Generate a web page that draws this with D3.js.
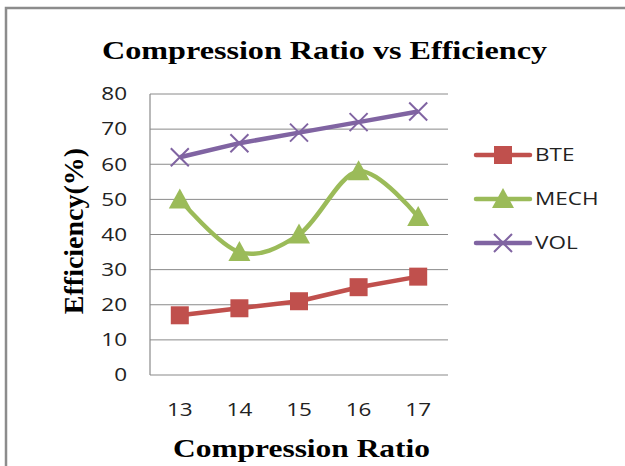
<!DOCTYPE html>
<html>
<head>
<meta charset="utf-8">
<script src="https://cdn.jsdelivr.net/npm/d3@7"></script>
<style>
  body { margin: 0; background: #fff; }
  svg { display: block; }
</style>
</head>
<body>
<svg id="chart" width="625" height="466"></svg>
<script>
// chart data
const ratios = [13, 14, 15, 16, 17];
const bte = [17, 19, 21, 25, 28];
const mech = [50, 35, 40, 58, 45];
const vol = [62, 66, 69, 72, 75];
const yTicks = [0, 10, 20, 30, 40, 50, 60, 70, 80];
const seriesNames = ["BTE", "MECH", "VOL"];

const svg = d3.select("#chart");
const plotLeft = 150, plotRight = 448, plotTop = 94, plotBottom = 375;
const stretch = 1.25; // the original picture is widened a bit

// outer frame
svg.append("path")
  .attr("d", "M6,466 V8 H625")
  .attr("fill", "none")
  .attr("stroke", "#8c8c8c")
  .attr("stroke-width", 2.5);

let x = d3.scaleBand().domain(ratios).range([plotLeft, plotRight]);
let y = d3.scaleLinear().domain([0, 80]).range([plotBottom, plotTop]);
let cx = d => x(d) + x.bandwidth() / 2;

// grid lines
svg.append("g").selectAll("line")
  .data(yTicks.slice(1))
  .enter().append("line")
  .attr("x1", plotLeft).attr("x2", plotRight)
  .attr("y1", d => y(d)).attr("y2", d => y(d))
  .attr("stroke", "#8a8a8a").attr("stroke-width", 1);

// axes lines
svg.append("line").attr("x1", plotLeft).attr("x2", plotLeft).attr("y1", plotTop).attr("y2", plotBottom)
  .attr("stroke", "#8a8a8a").attr("stroke-width", 1.2);
svg.append("line").attr("x1", plotLeft).attr("x2", plotRight).attr("y1", plotBottom).attr("y2", plotBottom)
  .attr("stroke", "#8a8a8a").attr("stroke-width", 1.2);

// tick labels
svg.append("g").selectAll("text")
  .data(yTicks)
  .enter().append("text")
  .attr("transform", d => "translate(127," + y(d) + ") scale(" + stretch + ",1)")
  .attr("dy", "0.35em")
  .attr("text-anchor", "end")
  .style("font-family", "Open Sans, sans-serif")
  .style("font-size", "18px")
  .attr("fill", "#222")
  .text(d => d);

svg.append("g").selectAll("text")
  .data(ratios)
  .enter().append("text")
  .attr("transform", d => "translate(" + cx(d) + ",410) scale(" + stretch + ",1)")
  .attr("dy", "0.35em")
  .attr("text-anchor", "middle")
  .style("font-family", "Open Sans, sans-serif")
  .style("font-size", "18px")
  .attr("fill", "#222")
  .text(d => d);

// titles
svg.append("text")
  .attr("x", 102).attr("y", 59)
  .attr("textLength", 445)
  .attr("lengthAdjust", "spacingAndGlyphs")
  .style("font-family", "Liberation Serif, serif")
  .style("font-weight", "bold")
  .style("font-size", "26px")
  .text("Compression Ratio vs Efficiency");

svg.append("text")
  .attr("x", 173).attr("y", 457)
  .attr("textLength", 257)
  .attr("lengthAdjust", "spacingAndGlyphs")
  .style("font-family", "Liberation Serif, serif")
  .style("font-weight", "bold")
  .style("font-size", "26px")
  .text("Compression Ratio");

svg.append("text")
  .attr("transform", "translate(83,231) rotate(-90)")
  .attr("text-anchor", "middle")
  .style("font-family", "Liberation Serif, serif")
  .style("font-weight", "bold")
  .style("font-size", "28px")
  .text("Efficiency(%)");

const colors = ["#C0504D", "#9BBB59", "#8064A2"];
const allSeries = [bte, mech, vol];
const curves = [d3.curveLinear, d3.curveCardinal.tension(0), d3.curveLinear];

function drawMarker(g, kind, color) {
  if (kind == 0) {
    g.append("rect").attr("x", -9).attr("y", -9).attr("width", 18).attr("height", 18)
      .attr("fill", color);
  } else if (kind == 1) {
    g.append("path").attr("d", "M0,-11 L11,9 L-11,9 Z").attr("fill", color);
  } else {
    g.append("path").attr("d", "M-9,-9 L9,9 M-9,9 L9,-9")
      .attr("stroke", color).attr("stroke-width", 2).attr("fill", "none");
  }
}

allSeries.forEach(function(vals, i){
  let line = d3.line()
    .x((d, j) => cx(ratios[j]))
    .y(d => y(d))
    .curve(curves[i]);
  svg.append("path")
    .attr("d", line(vals))
    .attr("fill", "none")
    .attr("stroke", colors[i])
    .attr("stroke-width", 4.5)
    .attr("stroke-linejoin", "round");
  vals.forEach(function(v, j){
    let g = svg.append("g").attr("transform", "translate(" + cx(ratios[j]) + "," + y(v) + ")");
    drawMarker(g, i, colors[i]);
  });
});

// legend
seriesNames.forEach(function(name, i){
  let ly = 155 + i * 44;
  svg.append("line")
    .attr("x1", 476).attr("x2", 530).attr("y1", ly).attr("y2", ly)
    .attr("stroke", colors[i]).attr("stroke-width", 4.5)
    .attr("stroke-linecap", "round");
  let g = svg.append("g").attr("transform", "translate(503," + ly + ")");
  drawMarker(g, i, colors[i]);
  svg.append("text")
    .attr("transform", "translate(535," + ly + ") scale(" + stretch + ",1)")
    .attr("dy", "0.35em")
    .style("font-family", "Open Sans, sans-serif")
    .style("font-size", "18px")
    .attr("fill", "#222")
    .text(name);
});
</script>
</body>
</html>
